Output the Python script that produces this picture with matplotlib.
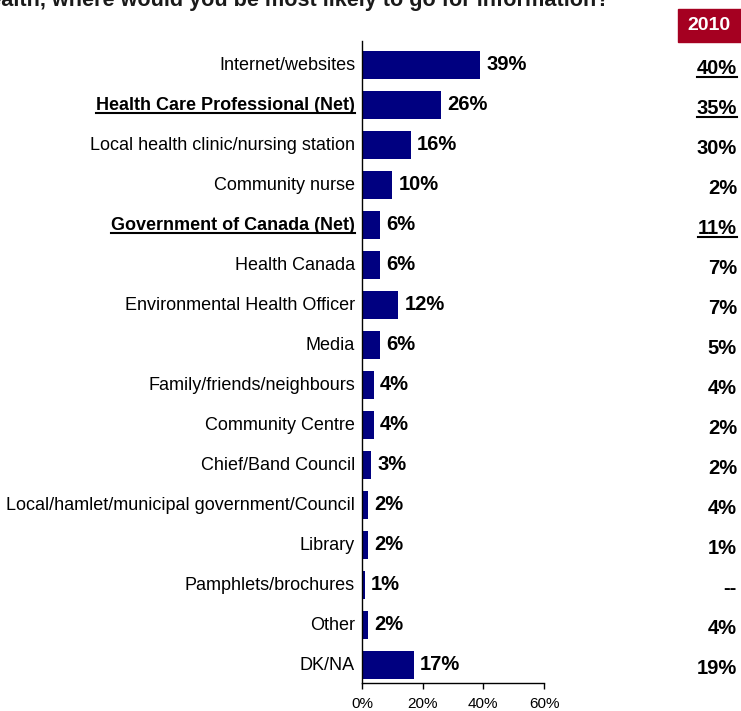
import matplotlib
matplotlib.use("Agg")
import matplotlib.pyplot as plt
from matplotlib.lines import Line2D
from matplotlib.patches import Rectangle

plt.rcParams['font.family'] = ['Liberation Sans', 'DejaVu Sans']

categories = ["Internet/websites", "Health Care Professional (Net)",
              "Local health clinic/nursing station", "Community nurse",
              "Government of Canada (Net)", "Health Canada",
              "Environmental Health Officer", "Media",
              "Family/friends/neighbours", "Community Centre",
              "Chief/Band Council", "Local/hamlet/municipal government/Council",
              "Library", "Pamphlets/brochures", "Other", "DK/NA"]
values = [39, 26, 16, 10, 6, 6, 12, 6, 4, 4, 3, 2, 2, 1, 2, 17]
values_2010 = ["40%", "35%", "30%", "2%", "11%", "7%", "7%", "5%",
               "4%", "2%", "2%", "4%", "1%", "--", "4%", "19%"]
net_rows = [1, 4]
net_rows_2010 = [0, 1, 4]
xticks = [0, 20, 40, 60]

W, H = 741, 711
fig = plt.figure(figsize=(W / 100, H / 100), dpi=100)
ax = fig.add_axes([362 / W, 1 - 683 / H, (544 - 362) / W, (683 - 41) / H])

y = list(range(len(categories)))
ax.barh(y, values, height=0.7, color="#000080")
ax.set_xlim(0, 60)
ax.set_ylim(15.45, -0.6)

for s in ["top", "right"]:
    ax.spines[s].set_visible(False)
ax.spines["left"].set_linewidth(1.0)
ax.spines["bottom"].set_linewidth(1.0)
ax.set_xticks(xticks)
ax.set_xticklabels([f"{t}%" for t in xticks], fontsize=11)
ax.tick_params(axis="x", length=4, width=1, pad=6)
ax.set_yticks([])

# category labels on the left, bold values at the bar ends
cat_texts = []
for i, (c, v) in enumerate(zip(categories, values)):
    bold = i in net_rows
    t = ax.text(-2.3, i, c, ha="right", va="center",
                fontsize=13, fontweight="bold" if bold else "normal")
    cat_texts.append(t)
    ax.text(v + 2, i, f"{v}%", ha="left", va="center",
            fontsize=14.5, fontweight="bold")

# 2010 column
fig.patches.append(Rectangle((678 / W, 1 - 42 / H), 63 / W, 33 / H,
                             transform=fig.transFigure, color="#A50021"))
fig.text(709 / W, 1 - 26 / H, "2010", ha="center", va="center",
         color="white", fontsize=14, fontweight="bold")
col_texts = []
for i, s in enumerate(values_2010):
    yy = ax.transData.transform((0, i))[1]
    t = fig.text(737 / W, (yy - 3) / H, s, ha="right", va="center",
                 fontsize=14.5, fontweight="bold")
    col_texts.append(t)

# question text, running off the top edge
fig.text(610 / W, 1 - 6 / H,
         "health, where would you be most likely to go for information?",
         ha="right", va="baseline", fontsize=15.6, fontweight="bold",
         color="#1a1a1a")

# underline the net rows
fig.canvas.draw()
r = fig.canvas.get_renderer()
for t in [cat_texts[i] for i in net_rows] + [col_texts[i] for i in net_rows_2010]:
    bb = t.get_window_extent(r)
    yl = bb.y0 + 1
    fig.add_artist(Line2D([bb.x0 / W, bb.x1 / W], [yl / H, yl / H],
                          transform=fig.transFigure, color="black", lw=1.5))

fig.savefig("out.png", dpi=100)
